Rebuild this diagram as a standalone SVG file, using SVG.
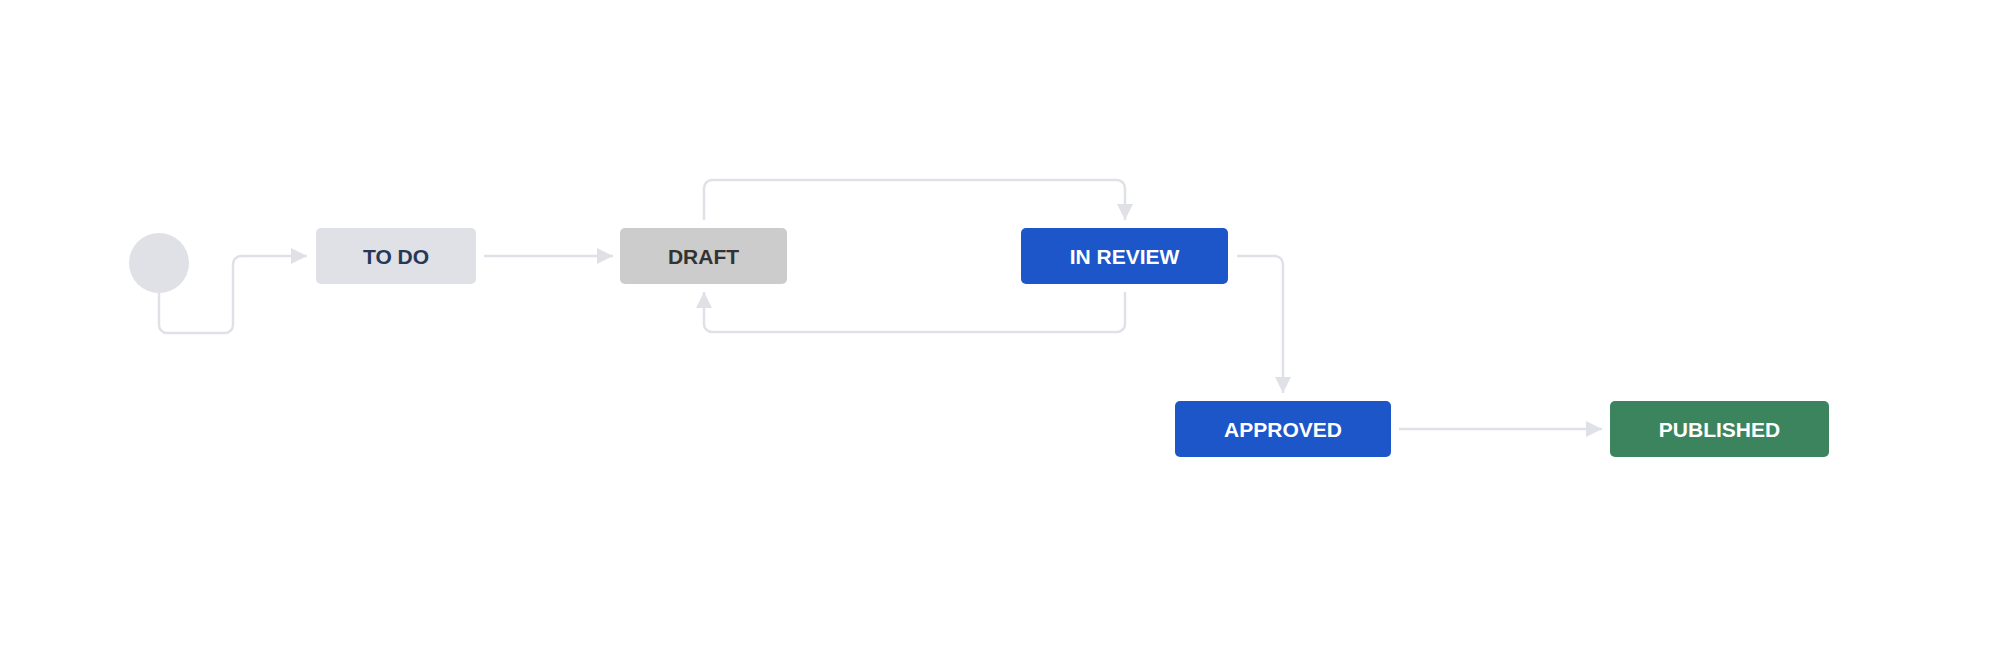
<svg xmlns="http://www.w3.org/2000/svg" width="2012" height="660" viewBox="0 0 2012 660">
<style>
.c{fill:none;stroke:#DFE1E6;stroke-width:2.5}
text{font-family:"Liberation Sans",Arial,sans-serif;font-weight:bold;font-size:21px;text-anchor:middle;dominant-baseline:central}
</style>
<defs>
<marker id="a" viewBox="0 0 10 10" refX="10" refY="5" markerWidth="16" markerHeight="16" markerUnits="userSpaceOnUse" orient="auto"><path d="M0,0L10,5L0,10z" fill="#DFE1E6"/></marker>
</defs>
<rect width="2012" height="660" fill="#fff"/>
<g id="connectors">
<path class="c" marker-end="url(#a)" d="M159,293V325a8,8 0 0 0 8,8H225a8,8 0 0 0 8,-8V264a8,8 0 0 1 8,-8H307"/>
<path class="c" marker-end="url(#a)" d="M484,256H613"/>
<path class="c" marker-end="url(#a)" d="M704,220V188a8,8 0 0 1 8,-8H1117a8,8 0 0 1 8,8V220"/>
<path class="c" marker-end="url(#a)" d="M1125,292V324a8,8 0 0 1 -8,8H712a8,8 0 0 1 -8,-8V292"/>
<path class="c" marker-end="url(#a)" d="M1237,256H1275a8,8 0 0 1 8,8V393"/>
<path class="c" marker-end="url(#a)" d="M1399,429H1602"/>
</g>
<g id="start"><circle cx="159" cy="263" r="30" fill="#DFE1E6"/></g>
<g id="todo"><rect x="316" y="228" width="160" height="56" rx="5" fill="#DFE1E6"/><text x="396" y="256" fill="#253858">TO DO</text></g>
<g id="draft"><rect x="620" y="228" width="167" height="56" rx="5" fill="#CCCCCC"/><text x="703.5" y="256" fill="#333333">DRAFT</text></g>
<g id="inreview"><rect x="1021" y="228" width="207" height="56" rx="5" fill="#1D56C8"/><text x="1124.5" y="256" fill="#fff">IN REVIEW</text></g>
<g id="approved"><rect x="1175" y="401" width="216" height="56" rx="5" fill="#1D56C8"/><text x="1283" y="429" fill="#fff">APPROVED</text></g>
<g id="published"><rect x="1610" y="401" width="219" height="56" rx="5" fill="#3B845E"/><text x="1719.5" y="429" fill="#fff">PUBLISHED</text></g>
</svg>
